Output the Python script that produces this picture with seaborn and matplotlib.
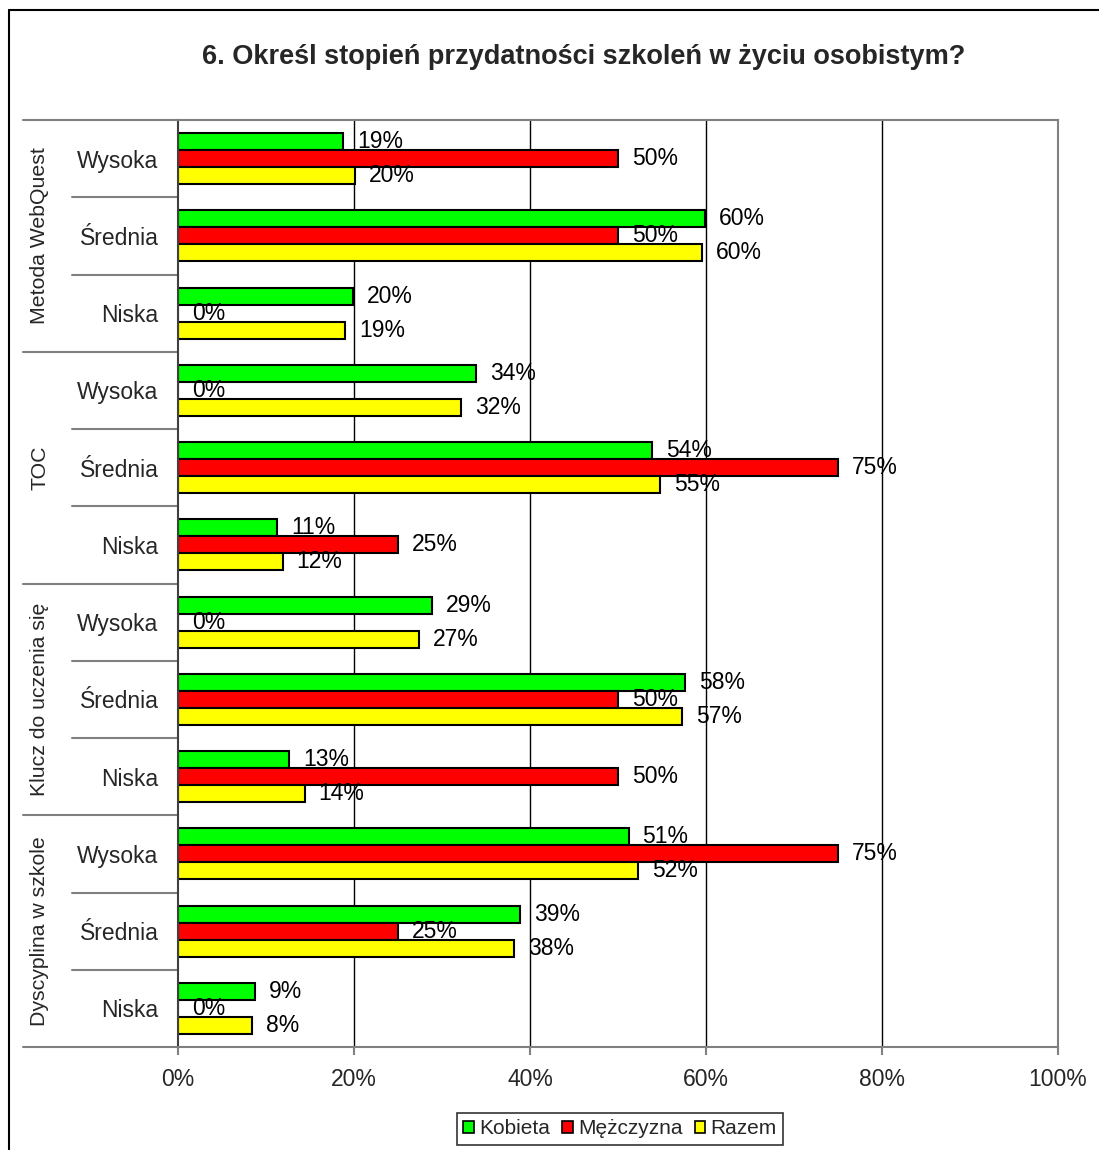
import pandas as pd
import seaborn as sns
import matplotlib.pyplot as plt
from matplotlib.lines import Line2D
from matplotlib.patches import Patch

# chart data
groups = ['Metoda WebQuest', 'TOC', 'Klucz do uczenia się', 'Dyscyplina w szkole']
levels = ['Wysoka', 'Średnia', 'Niska']
series = ['Kobieta', 'Mężczyzna', 'Razem']
kobieta = [18.8, 59.9, 19.9, 33.9, 53.9, 11.3, 28.9, 57.6, 12.6, 51.2, 38.9, 8.7]
mezczyzna = [50.0, 50.0, 0.0, 0.0, 75.0, 25.0, 0.0, 50.0, 50.0, 75.0, 25.0, 0.0]
razem = [20.1, 59.6, 19.0, 32.2, 54.8, 11.9, 27.4, 57.3, 14.4, 52.3, 38.2, 8.4]
x_ticks = [0, 20, 40, 60, 80, 100]
colors = ['#00FF00', '#FF0000', '#FFFF00']


def build_frame():
    """long table: one row per bar"""
    rows = []
    keys = [g + '|' + l for g in groups for l in levels]
    for name, vals in zip(series, [kobieta, mezczyzna, razem]):
        for k, v in zip(keys, vals):
            rows.append({'Kategoria': k, 'Seria': name, 'Wartosc': v})
    return pd.DataFrame(rows), keys


df, keys = build_frame()

sns.set_theme(style='white')
plt.rcParams['font.family'] = ['Liberation Sans', 'DejaVu Sans']

fig = plt.figure(figsize=(10.99, 11.5), dpi=100)
ax = fig.add_axes([178 / 1099, 1 - 1047 / 1150, 880 / 1099, 927 / 1150])

sns.barplot(data=df, y='Kategoria', x='Wartosc', hue='Seria', order=keys,
            hue_order=series, palette=colors, orient='h', width=0.66,
            edgecolor='black', linewidth=1.5, saturation=1, legend=False, ax=ax)

for cont in ax.containers:
    ax.bar_label(cont, labels=[f'{b.get_width():.0f}%' for b in cont],
                 padding=10, fontsize=16.5, color='black')

ax.set_xlim(0, 100)
ax.set_ylim(len(keys) - 0.5, -0.5)
ax.set_xticks(x_ticks)
ax.set_xticklabels([f'{t}%' for t in x_ticks], fontsize=16.5)
ax.tick_params(axis='x', length=6, width=1.5, color='#808080', pad=9, bottom=True)
ax.set_yticks(range(len(keys)))
ax.set_yticklabels(levels * len(groups), fontsize=16.5)
ax.tick_params(axis='y', length=0, pad=14)
ax.set_xlabel('')
ax.set_ylabel('')

for x in x_ticks[1:-1]:
    ax.axvline(x, color='black', lw=1, zorder=0)
for side in ['top', 'right', 'bottom']:
    ax.spines[side].set_color('#808080')
    ax.spines[side].set_linewidth(1.5)
ax.spines['left'].set_color('#404040')
ax.spines['left'].set_linewidth(1.5)

# separators and group names on the left
trans = ax.get_yaxis_transform()
for i in range(len(keys) + 1):
    x0 = -0.176 if i % 3 == 0 else -0.1205
    ax.plot([x0, 0], [i - 0.5, i - 0.5], color='#808080', lw=1.5,
            transform=trans, clip_on=False)
for j, g in enumerate(groups):
    ax.text(-0.157, j * 3 + 1, g, rotation=90, ha='center', va='center',
            fontsize=15.3, transform=trans)

fig.text(584 / 1099, 1 - 57 / 1150, '6. Określ stopień przydatności szkoleń w życiu osobistym?',
         ha='center', va='center', fontsize=19.5, fontweight='bold')

handles = [Patch(facecolor=c, edgecolor='black', linewidth=1.2) for c in colors]
leg = fig.legend(handles, series, loc='center', bbox_to_anchor=(620 / 1099, 21 / 1150),
                 ncol=3, fontsize=15, frameon=True, fancybox=False, handlelength=0.5,
                 handleheight=0.5, handletextpad=0.25, columnspacing=0.6,
                 borderpad=0.3, edgecolor='black')
leg.get_frame().set_linewidth(1.2)

# outer chart border (cut off at right and bottom)
fig.add_artist(Line2D([9 / 1099, 1.1], [1 - 9.5 / 1150] * 2, color='black', lw=1.5))
fig.add_artist(Line2D([9 / 1099] * 2, [-0.1, 1 - 9.5 / 1150], color='black', lw=1.5))

plt.savefig('out.png', dpi=100)
